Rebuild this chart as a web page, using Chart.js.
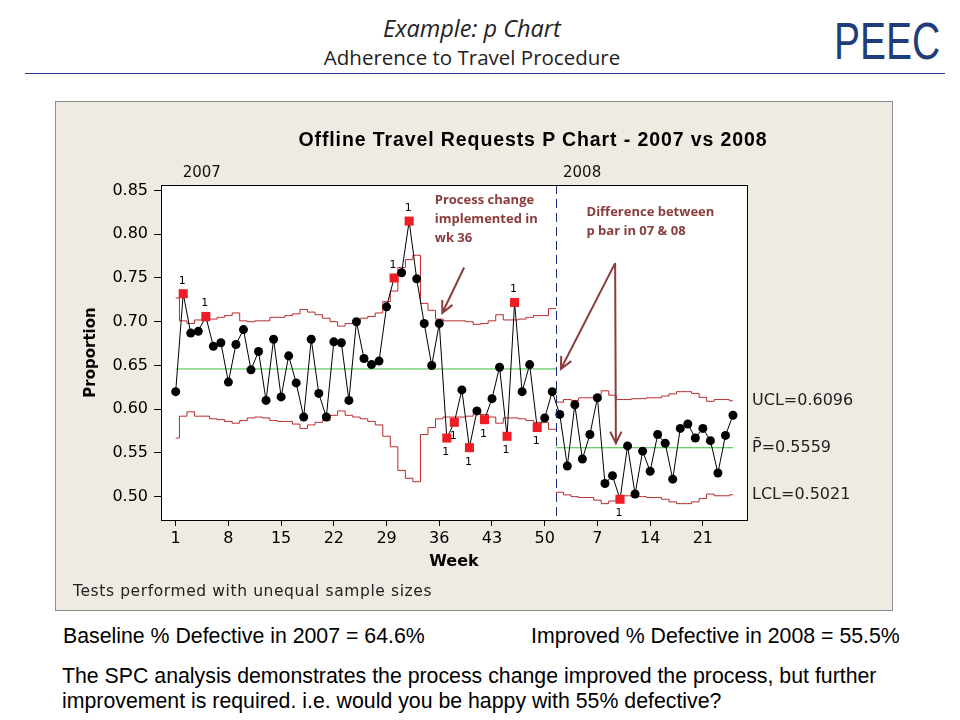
<!DOCTYPE html>
<html lang="en">
<head>
    <meta charset="UTF-8">
    <title>Example: p Chart</title>
    <script src="https://cdn.jsdelivr.net/npm/chart.js"></script>
    <style>
        body {
            margin: 0;
            width: 960px;
            height: 720px;
            position: relative;
            overflow: hidden;
            background: #ffffff;
            font-family: 'Liberation Sans', Arial, sans-serif;
            color: #000;
        }

        .abs {
            position: absolute;
            white-space: nowrap;
        }

        #heading1 {
            left: 0; width: 944px; top: 12px;
            text-align: center;
            font-family: 'Open Sans', sans-serif;
            font-style: italic;
            font-size: 23.5px;
            line-height: 32px;
            color: #222;
        }

        #heading2 {
            left: 0; width: 944px; top: 43px;
            text-align: center;
            font-family: 'Open Sans', sans-serif;
            font-size: 20.5px;
            line-height: 28px;
            color: #222;
        }

        #logo {
            left: 834px; top: 13px;
            font-family: 'Liberation Sans', sans-serif;
            font-size: 52px;
            line-height: 56px;
            color: #1f3d7a;
            transform: scaleX(0.75);
            transform-origin: left center;
        }

        #rule {
            left: 25px; top: 73px; width: 920px; height: 1px;
            background: #2e3d8f;
        }

        #chart-box {
            left: 55px; top: 101px; width: 838px; height: 510px;
            box-sizing: border-box;
            border: 1px solid #8f8f8f;
            background: #efebe2;
        }

        #chart-title {
            left: 533px; top: 127px;
            transform: translateX(-50%);
            font-weight: bold;
            font-size: 19.5px;
            letter-spacing: 0.9px;
            line-height: 24px;
        }

        #sample-note {
            left: 73px; top: 581px;
            font-family: 'DejaVu Sans', sans-serif;
            font-size: 15.5px;
            letter-spacing: 0.6px;
            line-height: 20px;
            color: #222;
        }

        #canvas-wrap {
            left: 55px; top: 101px; width: 838px; height: 510px;
        }

        .summary {
            font-size: 21.3px;
            line-height: 24px;
        }
    </style>
</head>
<body>
    <div class="abs" id="heading1">Example: p Chart</div>
    <div class="abs" id="heading2">Adherence to Travel Procedure</div>
    <div class="abs" id="logo">PEEC</div>
    <div class="abs" id="rule"></div>

    <div class="abs" id="chart-box"></div>
    <div class="abs" id="canvas-wrap">
        <canvas id="pChart" width="838" height="510"></canvas>
    </div>
    <div class="abs" id="chart-title">Offline Travel Requests P Chart - 2007 vs 2008</div>
    <div class="abs" id="sample-note">Tests performed with unequal sample sizes</div>

    <div class="abs summary" style="left:63px; top:624px;">Baseline % Defective in 2007 = 64.6%</div>
    <div class="abs summary" style="left:531px; top:624px;">Improved % Defective in 2008 = 55.5%</div>
    <div class="abs summary" style="left:62px; top:664px;">The SPC analysis demonstrates the process change improved the process, but further</div>
    <div class="abs summary" style="left:62px; top:689px;">improvement is required. i.e. would you be happy with 55% defective?</div>

    <script>
        // weekly proportion defective, weeks 1-51 of the 2007 stage then the 2008 stage
        const proportion = [
            0.620, 0.732, 0.687, 0.689, 0.706, 0.672, 0.676, 0.631, 0.674, 0.691,
            0.645, 0.666, 0.610, 0.680, 0.614, 0.661, 0.630, 0.591, 0.680, 0.618,
            0.591, 0.677, 0.676, 0.610, 0.700, 0.658, 0.651, 0.655, 0.717, 0.750,
            0.756, 0.815, 0.749, 0.698, 0.650, 0.698, 0.567, 0.585, 0.622, 0.556,
            0.598, 0.588, 0.612, 0.648, 0.569, 0.722, 0.620, 0.651, 0.579, 0.590,
            0.620,
            0.594, 0.535, 0.605, 0.543, 0.571, 0.613, 0.515, 0.524, 0.497, 0.558,
            0.503, 0.552, 0.529, 0.571, 0.561, 0.520, 0.578, 0.583, 0.567, 0.578,
            0.564, 0.527, 0.570, 0.593
        ];

        const ucl2007 = [
            0.727, 0.701, 0.698, 0.702, 0.701, 0.703, 0.705, 0.707, 0.710, 0.701,
            0.700, 0.701, 0.701, 0.705, 0.705, 0.707, 0.709, 0.714, 0.711, 0.708,
            0.704, 0.700, 0.695, 0.698, 0.701, 0.704, 0.706, 0.710, 0.723, 0.735,
            0.762, 0.771, 0.776, 0.721, 0.713, 0.703, 0.701, 0.701, 0.701, 0.700,
            0.697, 0.698, 0.701, 0.708, 0.702, 0.702, 0.703, 0.705, 0.707, 0.707,
            0.715
        ];
        const lcl2007 = [
            0.567, 0.592, 0.597, 0.592, 0.592, 0.589, 0.588, 0.586, 0.584, 0.587,
            0.590, 0.591, 0.590, 0.587, 0.586, 0.586, 0.583, 0.578, 0.582, 0.585,
            0.587, 0.593, 0.598, 0.593, 0.591, 0.589, 0.586, 0.582, 0.569, 0.557,
            0.530, 0.521, 0.517, 0.571, 0.579, 0.589, 0.591, 0.591, 0.591, 0.592,
            0.595, 0.594, 0.591, 0.584, 0.590, 0.590, 0.589, 0.587, 0.585, 0.585,
            0.577
        ];

        const ucl2008 = [
            0.608, 0.611, 0.610, 0.613, 0.613, 0.616, 0.621, 0.616, 0.611, 0.611,
            0.612, 0.612, 0.613, 0.613, 0.615, 0.6175, 0.620, 0.620, 0.618, 0.6135,
            0.609, 0.611, 0.611, 0.6096
        ];
        const lcl2008 = [
            0.505, 0.502, 0.500, 0.499, 0.499, 0.496, 0.492, 0.495, 0.501, 0.501,
            0.500, 0.500, 0.499, 0.499, 0.497, 0.494, 0.492, 0.492, 0.494, 0.498,
            0.503, 0.501, 0.501, 0.5021
        ];

        const centre2007 = 0.646;
        const centre2008 = 0.5559;
        const stageSplit = 51.5;
        const firstIndex2008 = 52;

        // points beyond the limits (test 1)
        const flaggedHigh = [2, 5, 30, 32, 46];
        const flaggedLow = [37, 38, 40, 42, 45, 49, 60];

        const xTickPositions = [1, 8, 15, 22, 29, 36, 43, 50, 57, 64, 71];
        const xTickLabels = ['1', '8', '15', '22', '29', '36', '43', '50', '7', '14', '21'];
        const yTickValues = [0.50, 0.55, 0.60, 0.65, 0.70, 0.75, 0.80, 0.85];

        const stageLabels = ['2007', '2008'];
        const stageStarts = [1, stageSplit];

        const lastIndex = proportion.length;
        const flagged = flaggedHigh.concat(flaggedLow);

        // annotation anchors in data units (week index, proportion)
        const noteProcess = { lines: ['Process change', 'implemented in', 'wk 36'], x: 35.4, y: 0.839 };
        const noteDiff = { lines: ['Difference between', 'p bar in 07 & 08'], x: 55.55, y: 0.825 };
        const arrows = [
            { from: [39.3, 0.762], to: [36.4, 0.710] },
            { from: [59.35, 0.767], to: [59.45, 0.561] },
            { from: [59.35, 0.767], to: [52.15, 0.646] }
        ];

        const limitColor = '#b82a2a';
        const noteColor = '#8b3c3c';

        const weekPoints = proportion.map((p, k) => ({ x: k + 1, y: p }));

        const ucl2007Points = ucl2007.map((v, k) => ({ x: k + 1, y: v }));
        ucl2007Points.push({ x: stageSplit, y: ucl2007[ucl2007.length - 1] });
        const lcl2007Points = lcl2007.map((v, k) => ({ x: k + 1, y: v }));
        lcl2007Points.push({ x: stageSplit, y: lcl2007[lcl2007.length - 1] });

        const ucl2008Points = [{ x: stageSplit, y: ucl2008[0] }]
            .concat(ucl2008.map((v, k) => ({ x: firstIndex2008 + k, y: v })));
        const lcl2008Points = [{ x: stageSplit, y: lcl2008[0] }]
            .concat(lcl2008.map((v, k) => ({ x: firstIndex2008 + k, y: v })));

        function limitSet(points, colour) {
            return {
                data: points,
                borderColor: colour,
                borderWidth: 1,
                pointRadius: 0,
                stepped: 'middle',
                fill: false
            };
        }

        function drawArrow(ctx, x1, y1, x2, y2) {
            const angle = Math.atan2(y2 - y1, x2 - x1);
            const head = 13;
            ctx.beginPath();
            ctx.moveTo(x1, y1);
            ctx.lineTo(x2, y2);
            ctx.moveTo(x2 - head * Math.cos(angle - 0.45), y2 - head * Math.sin(angle - 0.45));
            ctx.lineTo(x2, y2);
            ctx.lineTo(x2 - head * Math.cos(angle + 0.45), y2 - head * Math.sin(angle + 0.45));
            ctx.stroke();
        }

        const extrasPlugin = {
            id: 'pChartExtras',
            beforeDraw(chart) {
                const { ctx, chartArea: a } = chart;
                ctx.save();
                ctx.fillStyle = '#ffffff';
                ctx.fillRect(a.left, a.top, a.width, a.height);
                ctx.restore();
            },
            afterDatasetsDraw(chart) {
                const { ctx, chartArea: a, scales: { x, y } } = chart;
                ctx.save();

                // stage separator
                const sx = Math.round(x.getPixelForValue(stageSplit)) + 0.5;
                ctx.strokeStyle = '#1c2a80';
                ctx.lineWidth = 1;
                ctx.setLineDash([9, 5]);
                ctx.beginPath();
                ctx.moveTo(sx, a.top);
                ctx.lineTo(sx, a.bottom);
                ctx.stroke();
                ctx.setLineDash([]);

                // test 1 flags
                const meta = chart.getDatasetMeta(0);
                ctx.fillStyle = '#000';
                ctx.font = '11px "DejaVu Sans"';
                ctx.textAlign = 'center';
                ctx.textBaseline = 'middle';
                flaggedHigh.forEach(i => {
                    const pt = meta.data[i - 1];
                    ctx.fillText('1', pt.x - 1, pt.y - 13);
                });
                flaggedLow.forEach(i => {
                    const pt = meta.data[i - 1];
                    ctx.fillText('1', pt.x - 1, pt.y + 14);
                });

                // stage labels above the plot
                ctx.font = '15px "DejaVu Sans"';
                ctx.textAlign = 'left';
                ctx.fillStyle = '#111';
                stageLabels.forEach((label, k) => {
                    ctx.fillText(label, x.getPixelForValue(stageStarts[k]) + 7, a.top - 12);
                });

                // limit values for the last stage
                ctx.font = '16px "DejaVu Sans"';
                ctx.fillStyle = '#222';
                const sideX = a.right + 5;
                ctx.fillText('UCL=' + ucl2008[ucl2008.length - 1].toFixed(4), sideX, y.getPixelForValue(ucl2008[ucl2008.length - 1]));
                ctx.fillText('P\u0304=' + centre2008.toFixed(4), sideX, y.getPixelForValue(centre2008));
                ctx.fillText('LCL=' + lcl2008[lcl2008.length - 1].toFixed(4), sideX, y.getPixelForValue(lcl2008[lcl2008.length - 1]));

                // notes and arrows
                ctx.fillStyle = noteColor;
                ctx.font = 'bold 13px "Open Sans"';
                [noteProcess, noteDiff].forEach(note => {
                    const nx = x.getPixelForValue(note.x);
                    const ny = y.getPixelForValue(note.y);
                    note.lines.forEach((line, k) => ctx.fillText(line, nx, ny + k * 19));
                });
                ctx.strokeStyle = noteColor;
                ctx.lineWidth = 2;
                arrows.forEach(ar => {
                    drawArrow(ctx,
                        x.getPixelForValue(ar.from[0]), y.getPixelForValue(ar.from[1]),
                        x.getPixelForValue(ar.to[0]), y.getPixelForValue(ar.to[1]));
                });

                // plot frame
                ctx.strokeStyle = '#000';
                ctx.lineWidth = 1;
                ctx.strokeRect(Math.round(a.left) + 0.5, Math.round(a.top) + 0.5, Math.round(a.width), Math.round(a.height));
                ctx.restore();
            }
        };

        const config = {
            type: 'line',
            data: {
                datasets: [
                    {
                        data: weekPoints,
                        borderColor: '#000',
                        borderWidth: 1,
                        tension: 0,
                        pointStyle: ctx => flagged.includes(ctx.dataIndex + 1) ? 'rect' : 'circle',
                        pointRadius: ctx => flagged.includes(ctx.dataIndex + 1) ? 6.4 : 4.5,
                        pointBackgroundColor: ctx => flagged.includes(ctx.dataIndex + 1) ? '#ee1c24' : '#000',
                        pointBorderColor: ctx => flagged.includes(ctx.dataIndex + 1) ? '#ee1c24' : '#000',
                        pointBorderWidth: 0
                    },
                    limitSet(ucl2007Points, limitColor),
                    limitSet(lcl2007Points, limitColor),
                    limitSet(ucl2008Points, limitColor),
                    limitSet(lcl2008Points, limitColor),
                    {
                        data: [{ x: 1, y: centre2007 }, { x: stageSplit, y: centre2007 }],
                        borderColor: '#3dbb3d', borderWidth: 1, pointRadius: 0
                    },
                    {
                        data: [{ x: stageSplit, y: centre2008 }, { x: lastIndex, y: centre2008 }],
                        borderColor: '#3dbb3d', borderWidth: 1, pointRadius: 0
                    }
                ]
            },
            options: {
                responsive: false,
                animation: false,
                layout: { padding: { left: 0, right: 146, top: 84, bottom: 0 } },
                scales: {
                    x: {
                        type: 'linear',
                        min: -0.95,
                        max: 76.86,
                        afterBuildTicks: scale => { scale.ticks = xTickPositions.map(v => ({ value: v })); },
                        afterFit: scale => { scale.height = 91; },
                        ticks: {
                            autoSkip: false,
                            maxRotation: 0,
                            padding: 3,
                            color: '#000',
                            font: { family: 'DejaVu Sans', size: 16 },
                            callback: value => xTickLabels[xTickPositions.indexOf(value)]
                        },
                        grid: { drawOnChartArea: false, tickLength: 6, color: '#000' },
                        border: { color: '#000' },
                        title: {
                            display: true,
                            text: 'Week',
                            color: '#000',
                            font: { family: 'DejaVu Sans', size: 16, weight: 'bold' },
                            padding: { top: 0, bottom: 40 }
                        }
                    },
                    y: {
                        min: 0.4733,
                        max: 0.8563,
                        afterBuildTicks: scale => { scale.ticks = yTickValues.map(v => ({ value: v })); },
                        afterFit: scale => { scale.width = 106; },
                        ticks: {
                            padding: 6,
                            color: '#000',
                            font: { family: 'DejaVu Sans', size: 16 },
                            callback: value => value.toFixed(2)
                        },
                        grid: { drawOnChartArea: false, tickLength: 7, color: '#000' },
                        border: { color: '#000' },
                        title: {
                            display: true,
                            text: 'Proportion',
                            color: '#000',
                            font: { family: 'DejaVu Sans', size: 15, weight: 'bold' },
                            padding: { top: 27, bottom: 0 }
                        }
                    }
                },
                plugins: {
                    legend: { display: false },
                    tooltip: { enabled: false }
                }
            },
            plugins: [extrasPlugin]
        };

        const chart = new Chart(document.getElementById('pChart').getContext('2d'), config);
    </script>
</body>
</html>
